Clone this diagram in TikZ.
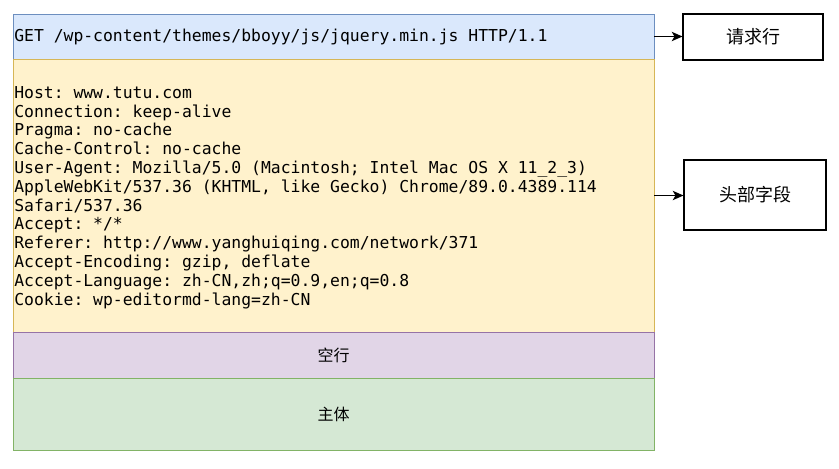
\documentclass[tikz,border=0pt]{standalone}
\usepackage{fontspec}
\setmonofont{DejaVu Sans Mono}
\newfontfamily\cjk{Noto Sans CJK SC}
\usetikzlibrary{arrows.meta}
\definecolor{fondbleu}{HTML}{DAE8FC}
\definecolor{traitbleu}{HTML}{6C8EBF}
\definecolor{fondjaune}{HTML}{FFF2CC}
\definecolor{traitjaune}{HTML}{D6B656}
\definecolor{fondmauve}{HTML}{E1D5E7}
\definecolor{traitmauve}{HTML}{9673A6}
\definecolor{fondvert}{HTML}{D5E8D4}
\definecolor{traitvert}{HTML}{82B366}
\begin{document}
\begin{tikzpicture}[x=0.75pt,y=-0.75pt,
	bande/.style={draw,minimum width=480.75pt,inner sep=0pt,line width=0.6pt},
	etiquette/.style={draw,fill=white,line width=0.8pt,font=\cjk\fontsize{13.5}{16}\selectfont},
	code/.style={inner sep=0pt,font=\ttfamily\fontsize{12.3}{14.1}\selectfont},
	fleche/.style={-{Stealth[length=8pt,width=7pt,inset=2pt]},line width=1pt}]
	%Cadre
	\useasboundingbox (0,0) rectangle (839,468) ;
	%Bandes
	\path	(333.5,36.5)	node [bande,fill=fondbleu,draw=traitbleu,minimum height=33.75pt]	(requete)	{} ;
	\path	(333.5,195.5)	node [bande,fill=fondjaune,draw=traitjaune,minimum height=204.75pt]	(entetes)	{} ;
	\path	(333.5,355)		node [bande,fill=fondmauve,draw=traitmauve,minimum height=34.5pt]	(vide)		{\cjk\fontsize{12}{14}\selectfont 空行} ;
	\path	(333.5,414)		node [bande,fill=fondvert,draw=traitvert,minimum height=54pt]		(corps)		{\cjk\fontsize{12}{14}\selectfont 主体} ;
	%Textes
	\path [anchor=west]			(14,37)		node [code]	(get)	{GET /wp-content/themes/bboyy/js/jquery.min.js HTTP/1.1} ;
	\path [anchor=north west]	(14,86)		node [code,align=left]	(champs)	{Host: www.tutu.com\\
		Connection: keep-alive\\
		Pragma: no-cache\\
		Cache-Control: no-cache\\
		User-Agent: Mozilla/5.0 (Macintosh; Intel Mac OS X 11\_2\_3)\\
		AppleWebKit/537.36 (KHTML, like Gecko) Chrome/89.0.4389.114\\
		Safari/537.36\\
		Accept: */*\\
		Referer: http://www.yanghuiqing.com/network/371\\
		Accept-Encoding: gzip, deflate\\
		Accept-Language: zh-CN,zh;q=0.9,en;q=0.8\\
		Cookie: wp-editormd-lang=zh-CN} ;
	%Etiquettes
	\path	(753,37)	node [etiquette,minimum width=105pt,minimum height=34.5pt]	(libreq)	{请求行} ;
	\path	(755,195)	node [etiquette,minimum width=106.5pt,minimum height=52.5pt]	(libent)	{头部字段} ;
	%Fleches
	\draw [fleche]	(requete.east)	-- (requete.east -| libreq.west) ;
	\draw [fleche]	(entetes.east)	-- (entetes.east -| libent.west) ;
\end{tikzpicture}
\end{document}
